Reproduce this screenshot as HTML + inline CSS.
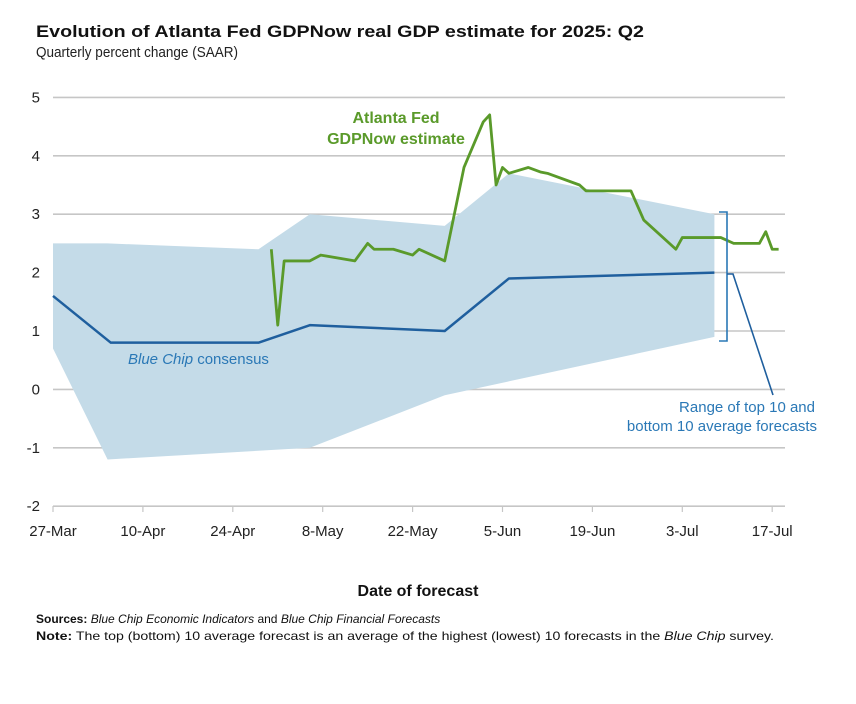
<!DOCTYPE html>
<html><head><meta charset="utf-8"><style>
body{margin:0;background:#fff;}
svg{display:block;font-family:"Liberation Sans",sans-serif;}
</style></head><body>
<svg id="chart" width="856" height="704" viewBox="0 0 856 704">
<text x="36" y="37" font-size="17" font-weight="bold" fill="#111" textLength="608" lengthAdjust="spacingAndGlyphs">Evolution of Atlanta Fed GDPNow real GDP estimate for 2025: Q2</text>
<text x="36" y="57" font-size="15" fill="#222" textLength="202" lengthAdjust="spacingAndGlyphs">Quarterly percent change (SAAR)</text>
<g id="grid"></g>
<g id="band"></g>
<g id="lines"></g>
<g id="ticks"></g>
<text x="396" y="123" font-size="16" font-weight="bold" fill="#5a9a2a" text-anchor="middle">Atlanta Fed</text>
<text x="396" y="144" font-size="16" font-weight="bold" fill="#5a9a2a" text-anchor="middle">GDPNow estimate</text>
<text x="128" y="364" font-size="15" fill="#2a78b6"><tspan font-style="italic">Blue Chip</tspan> consensus</text>
<path d="M719,212 H727 V341 H719" fill="none" stroke="#2a78b6" stroke-width="1.6"/>
<path d="M727,274 H733 L773,395" fill="none" stroke="#1f5f9e" stroke-width="1.6"/>
<text x="815" y="412" font-size="15" fill="#2a78b6" text-anchor="end">Range of top 10 and</text>
<text x="817" y="431" font-size="15" fill="#2a78b6" text-anchor="end">bottom 10 average forecasts</text>
<text x="418" y="596" font-size="16" font-weight="bold" fill="#111" text-anchor="middle">Date of forecast</text>
<text x="36" y="623" font-size="12" fill="#111"><tspan font-weight="bold">Sources:</tspan> <tspan font-style="italic">Blue Chip Economic Indicators</tspan> and <tspan font-style="italic">Blue Chip Financial Forecasts</tspan></text>
<text x="36" y="640" font-size="12" fill="#111" textLength="738" lengthAdjust="spacingAndGlyphs"><tspan font-weight="bold">Note:</tspan> The top (bottom) 10 average forecast is an average of the highest (lowest) 10 forecasts in the <tspan font-style="italic">Blue Chip</tspan> survey.</text>
</svg>
<script>
const yTicks=[-2,-1,0,1,2,3,4,5];
const xTickLabels=["27-Mar","10-Apr","24-Apr","8-May","22-May","5-Jun","19-Jun","3-Jul","17-Jul"];
const xTickDays=[0,14,28,42,56,70,84,98,112];
const bandDays=[0,8.5,32,40,61,71,103];
const bandUpper=[2.5,2.5,2.4,3.0,2.8,3.7,3.0];
const bandLowerDays=[0,8.5,40,61,103];
const bandLower=[0.7,-1.2,-1.0,-0.1,0.9];
const blueDays=[0,9,32,40,61,71,103];
const blueVals=[1.6,0.8,0.8,1.1,1.0,1.9,2.0];
const greenDays=[34,35,36,40,41.7,47,49,50,53,56,57,61,64,67,68,69,70,71,74,76,77,82,83,90,92,97,98,104,106,110,111,112,113];
const greenVals=[2.4,1.1,2.2,2.2,2.3,2.2,2.5,2.4,2.4,2.3,2.4,2.2,3.8,4.58,4.7,3.5,3.8,3.7,3.8,3.72,3.7,3.5,3.4,3.4,2.9,2.4,2.6,2.6,2.5,2.5,2.7,2.4,2.4];
const NS="http://www.w3.org/2000/svg";
function x(d){return 53+d*(89.9/14);}
function y(v){return 389.4-v*58.4;}
function mk(tag,attrs,parent){const e=document.createElementNS(NS,tag);for(const k in attrs)e.setAttribute(k,attrs[k]);document.getElementById(parent).appendChild(e);return e;}
yTicks.forEach(v=>{
  const l=mk('line',{x1:53,x2:785,y1:y(v),y2:y(v),stroke:'#c6c6c6','stroke-width':1.6},'grid');
  
  
  const t=mk('text',{x:40,y:y(v)+5,'font-size':15,fill:'#222','text-anchor':'end'},'grid');
  t.textContent=v;
  
  
});
xTickDays.forEach((d,i)=>{
  const l=mk('line',{x1:x(d),x2:x(d),y1:506,y2:512,stroke:'#c6c6c6','stroke-width':1.2},'ticks');
  
  
  const t=mk('text',{x:x(d),y:536,'font-size':15,fill:'#222','text-anchor':'middle'},'ticks');
  t.textContent=xTickLabels[i];
  
  
});
let pts=bandDays.map((d,i)=>x(d)+','+y(bandUpper[i]));
for(let i=bandLowerDays.length-1;i>=0;i--)pts.push(x(bandLowerDays[i])+','+y(bandLower[i]));
const band=mk('polygon',{points:pts.join(' '),fill:'#c4dbe8'},'band');


const blue=mk('polyline',{points:blueDays.map((d,i)=>x(d)+','+y(blueVals[i])).join(' '),fill:'none',stroke:'#1f5f9e','stroke-width':2.5,'stroke-linejoin':'round'},'lines');


const green=mk('polyline',{points:greenDays.map((d,i)=>x(d)+','+y(greenVals[i])).join(' '),fill:'none',stroke:'#5a9a2a','stroke-width':2.8,'stroke-linejoin':'round'},'lines');


</script>
</body></html>
